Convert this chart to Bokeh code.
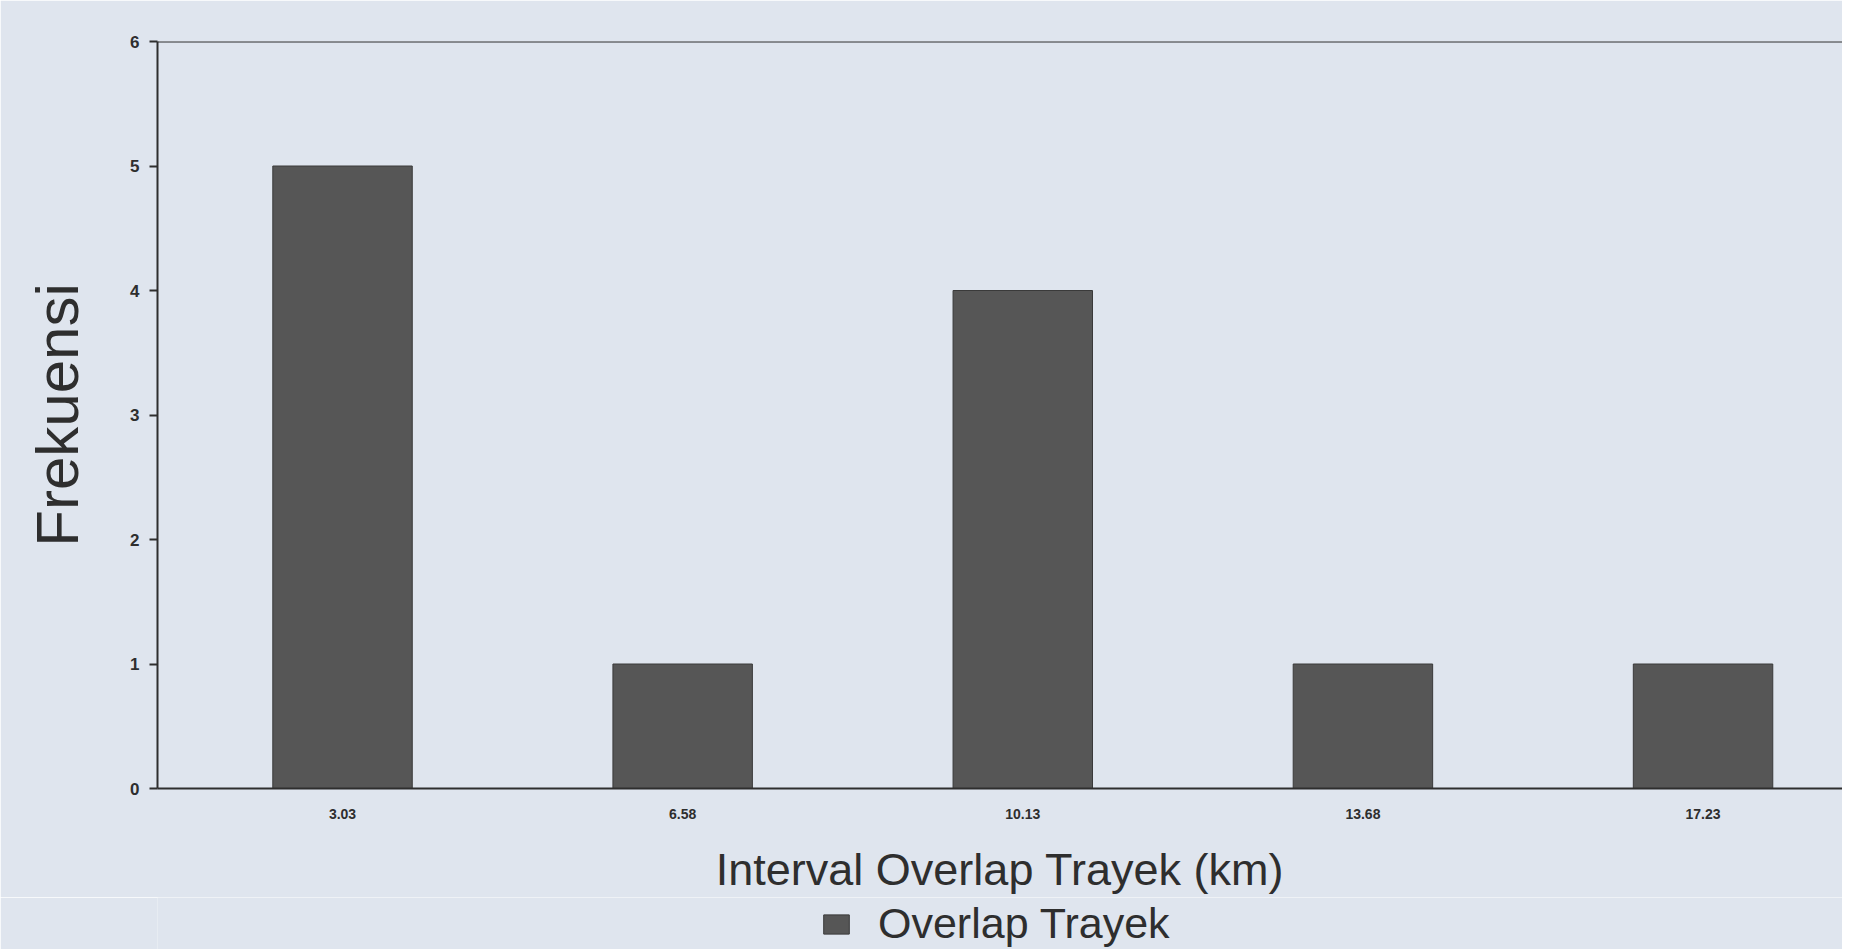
from bokeh.plotting import figure
from bokeh.layouts import column
from bokeh.models import FixedTicker, Span, Legend, LegendItem, ColumnDataSource
from bokeh.embed import file_html
from bokeh.resources import INLINE

categories = ["3.03", "6.58", "10.13", "13.68", "17.23"]
frekuensi = [5, 1, 4, 1, 1]
series_name = "Overlap Trayek"
y_ticks = [0, 1, 2, 3, 4, 5, 6]

BG = "#dfe5ee"
BAR = "#565656"
INK = "#2e2e2e"

xs = list(range(len(categories)))
src = ColumnDataSource(dict(x=xs, top=frekuensi))

p = figure(width=1842, height=897, output_backend="svg", toolbar_location=None,
           x_range=(-0.544, 4.41), y_range=(0, 6),
           min_border_left=157, min_border_top=41, min_border_right=0, min_border_bottom=107)
p.background_fill_color = BG
p.border_fill_color = BG
p.outline_line_color = None
p.grid.visible = False

r = p.vbar(x="x", top="top", width=0.41, bottom=0, source=src,
           fill_color=BAR, line_color="#3a3a3a", line_width=1)

p.add_layout(Span(location=6, dimension="width", line_color=INK, line_width=2))

p.xaxis.ticker = FixedTicker(ticks=xs)
p.xaxis.major_label_overrides = {i: c for i, c in enumerate(categories)}
p.xaxis.major_tick_line_color = None
p.xaxis.minor_tick_line_color = None
p.xaxis.axis_line_color = INK
p.xaxis.axis_line_width = 2
p.xaxis.major_label_text_font = "Liberation Sans"
p.xaxis.major_label_text_font_style = "bold"
p.xaxis.major_label_text_font_size = "14px"
p.xaxis.major_label_text_color = INK
p.xaxis.major_label_standoff = 14
p.xaxis.axis_label = "Interval Overlap Trayek (km)"
p.xaxis.axis_label_text_font = "Liberation Sans"
p.xaxis.axis_label_text_font_style = "normal"
p.xaxis.axis_label_text_font_size = "45px"
p.xaxis.axis_label_text_color = INK
p.xaxis.axis_label_standoff = 22

p.yaxis.ticker = FixedTicker(ticks=y_ticks)
p.yaxis.minor_tick_line_color = None
p.yaxis.major_tick_out = 8
p.yaxis.major_tick_in = 0
p.yaxis.major_tick_line_color = INK
p.yaxis.major_tick_line_width = 2
p.yaxis.axis_line_color = INK
p.yaxis.axis_line_width = 2
p.yaxis.major_label_text_font = "Liberation Sans"
p.yaxis.major_label_text_font_style = "bold"
p.yaxis.major_label_text_font_size = "17px"
p.yaxis.major_label_text_color = INK
p.yaxis.major_label_standoff = 10
p.yaxis.axis_label = "Frekuensi"
p.yaxis.axis_label_text_font = "Liberation Sans"
p.yaxis.axis_label_text_font_style = "normal"
p.yaxis.axis_label_text_font_size = "60px"
p.yaxis.axis_label_text_color = INK
p.yaxis.axis_label_standoff = 36

# legend strip below the chart
q = figure(width=1842, height=52, output_backend="svg", toolbar_location=None,
           x_range=(0, 1), y_range=(0, 1), min_border=0)
q.background_fill_color = BG
q.border_fill_color = BG
q.outline_line_color = None
q.axis.visible = False
q.grid.visible = False
rq = q.vbar(x=[-5], top=[-5], width=0.41, bottom=[-6],
            fill_color=BAR, line_color="#3a3a3a", line_width=1)
legend = Legend(items=[LegendItem(label=series_name, renderers=[rq])],
                location=(663, 1), orientation="horizontal",
                background_fill_alpha=0, border_line_color=None,
                label_text_font="Liberation Sans", label_text_font_size="43px",
                label_text_color=INK, glyph_width=32, glyph_height=24,
                padding=0, margin=0, spacing=0, label_standoff=26)
q.add_layout(legend)

layout = column(p, q, spacing=0)
open("out.html", "w").write(file_html(layout, INLINE))
